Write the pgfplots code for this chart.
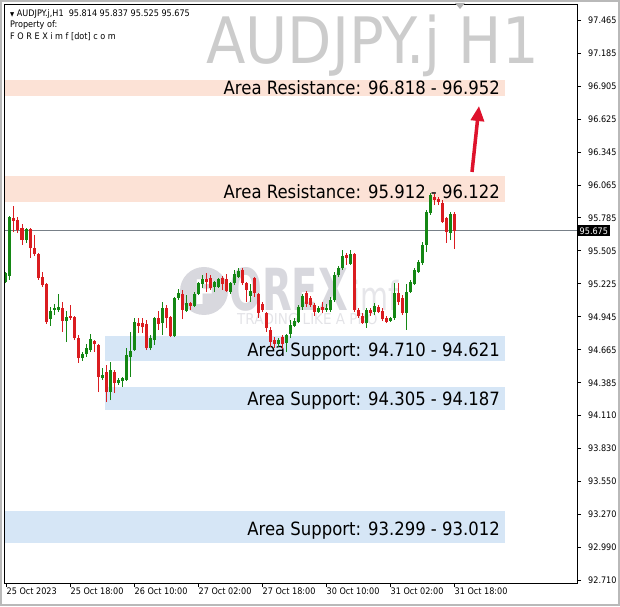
\documentclass[border=0pt]{standalone}
\usepackage{fontspec}
\setmainfont{DejaVu Sans}[FakeStretch=0.9]
\usepackage{pgfplots}
\pgfplotsset{compat=1.18}
\usepackage{pgfplotstable}
\usetikzlibrary{arrows.meta}

\definecolor{bull}{RGB}{20,135,20}
\definecolor{bear}{RGB}{218,28,32}
\definecolor{resband}{RGB}{252,226,214}
\definecolor{supband}{RGB}{214,230,246}
\definecolor{wm}{RGB}{204,204,204}
\definecolor{logo}{RGB}{200,200,208}
\definecolor{pricegray}{RGB}{120,128,136}
\definecolor{arrowred}{RGB}{222,18,44}

% H1 candles, bar index from the left edge: i open high low close
\pgfplotstableread{
i o h l c
0 95.241 95.326 95.232 95.317
1 95.292 95.801 95.258 95.793
5 95.597 95.699 95.572 95.691
11 94.926 95.028 94.867 94.994
12 95.003 95.054 94.960 95.020
13 95.003 95.139 94.986 95.028
15 94.909 94.994 94.731 94.943
19 94.595 94.646 94.570 94.629
20 94.629 94.714 94.604 94.680
21 94.663 94.799 94.646 94.756
24 94.425 94.510 94.408 94.451
26 94.306 94.561 94.238 94.493
28 94.383 94.425 94.366 94.408
29 94.400 94.434 94.349 94.425
30 94.408 94.680 94.400 94.621
31 94.604 94.816 94.434 94.655
32 94.663 94.935 94.655 94.901
36 94.680 94.791 94.663 94.765
37 94.748 94.943 94.706 94.935
39 94.892 95.071 94.791 95.020
42 94.782 95.113 94.773 95.105
43 95.105 95.181 95.088 95.147
45 94.994 95.130 94.986 95.062
47 95.037 95.156 95.028 95.139
48 95.139 95.241 95.130 95.232
49 95.224 95.300 95.190 95.266
52 95.198 95.249 95.156 95.241
53 95.198 95.275 95.190 95.266
56 95.156 95.241 95.139 95.232
57 95.232 95.343 95.215 95.309
58 95.283 95.359 95.275 95.334
61 95.122 95.224 95.071 95.164
68 94.714 94.765 94.689 94.748
70 94.723 94.799 94.646 94.791
71 94.799 94.918 94.765 94.875
72 94.867 94.935 94.858 94.909
73 94.901 95.045 94.892 95.028
74 95.028 95.139 95.003 95.122
78 94.986 95.037 94.977 95.020
80 95.003 95.054 94.986 95.020
81 95.003 95.113 94.986 95.088
82 95.088 95.326 95.071 95.300
83 95.300 95.376 95.283 95.359
84 95.359 95.512 95.343 95.461
86 95.394 95.512 95.385 95.478
90 94.892 95.020 94.850 95.003
92 94.986 95.062 94.960 95.037
96 94.909 94.943 94.901 94.935
97 94.935 95.232 94.918 95.147
100 94.977 95.224 94.833 95.156
101 95.156 95.258 95.147 95.241
102 95.224 95.359 95.215 95.343
103 95.326 95.427 95.317 95.410
104 95.402 95.580 95.385 95.555
105 95.555 95.852 95.495 95.835
106 95.827 95.996 95.810 95.979
111 95.657 95.835 95.597 95.818
}\bullc

\pgfplotstableread{
i o h l c
2 95.784 95.886 95.665 95.759
3 95.767 95.793 95.657 95.682
4 95.699 95.733 95.555 95.597
6 95.691 95.699 95.444 95.529
7 95.529 95.640 95.461 95.478
8 95.478 95.487 95.258 95.275
9 95.283 95.326 95.198 95.215
10 95.224 95.232 94.884 94.901
14 95.020 95.071 94.816 94.909
16 94.952 95.045 94.918 94.935
17 94.943 94.952 94.748 94.765
18 94.765 94.791 94.553 94.595
22 94.740 94.748 94.646 94.714
23 94.706 94.714 94.306 94.434
25 94.476 94.536 94.221 94.306
27 94.476 94.493 94.298 94.383
33 94.892 94.935 94.808 94.867
34 94.892 94.935 94.808 94.858
35 94.884 94.918 94.663 94.680
38 94.935 94.994 94.833 94.884
40 95.020 95.045 94.850 94.935
41 94.943 94.952 94.773 94.782
44 95.139 95.173 94.926 95.003
46 95.062 95.071 95.003 95.037
50 95.266 95.317 95.156 95.241
51 95.275 95.300 95.173 95.190
54 95.275 95.292 95.173 95.224
55 95.266 95.309 95.156 95.164
59 95.343 95.359 95.215 95.232
60 95.232 95.241 95.071 95.173
62 95.275 95.283 95.113 95.147
63 95.139 95.147 94.935 94.977
64 95.054 95.071 94.986 95.003
65 94.977 94.986 94.816 94.850
66 94.833 94.858 94.689 94.731
67 94.748 94.773 94.680 94.714
69 94.773 94.791 94.672 94.714
75 95.147 95.164 95.028 95.054
76 95.105 95.122 95.028 95.045
77 95.045 95.062 94.952 94.986
79 95.028 95.071 94.977 95.003
85 95.470 95.487 95.385 95.444
87 95.478 95.487 94.986 95.003
88 95.003 95.020 94.935 94.952
89 94.952 94.977 94.884 94.892
91 95.003 95.020 94.952 94.977
93 95.028 95.045 94.977 94.986
94 94.994 95.020 94.909 94.926
95 94.935 94.952 94.892 94.901
98 95.147 95.232 95.045 95.071
99 95.105 95.130 94.960 94.977
107 95.962 95.988 95.894 95.937
108 95.945 95.962 95.894 95.920
109 95.911 95.937 95.742 95.750
110 95.784 95.793 95.572 95.665
112 95.814 95.837 95.525 95.675
}\bearc

\tikzset{lbl/.style={anchor=base east, inner sep=0pt, font=\fontsize{18.3}{20}\selectfont}}

\begin{document}
\begin{tikzpicture}
\begin{axis}[
  scale only axis, width=572pt, height=578pt,
  xmin=-0.25, xmax=142.75, ymin=92.6845, ymax=97.5928,
  axis line style={black, line width=1pt},
  tick align=outside, major tick length=4pt,
  tick style={black, line width=0.8pt},
  xtick pos=bottom, ytick pos=right, yticklabel pos=right,
  scaled y ticks=false,
  /pgf/number format/assume math mode=true,
  ytick={92.710,92.990,93.270,93.550,93.830,94.110,94.385,94.665,94.945,
         95.225,95.505,95.785,96.065,96.345,96.625,96.905,97.185,97.465},
  yticklabel style={/pgf/number format/fixed, /pgf/number format/fixed zerofill,
         /pgf/number format/precision=3, font=\fontsize{9}{10}\selectfont,
         anchor=west, inner sep=0pt, xshift=7pt},
  xtick={0,16,32,48,64,80,96,112},
  xticklabels={25 Oct 2023,25 Oct 18:00,26 Oct 10:00,27 Oct 02:00,
               27 Oct 18:00,30 Oct 10:00,31 Oct 02:00,31 Oct 18:00},
  xticklabel style={font=\fontsize{9}{10}\selectfont, anchor=north west,
         inner sep=0pt, xshift=0.5pt, yshift=-1pt},
]
\coordinate (O) at (rel axis cs:0,0);
% resistance and support areas
\fill[resband] (axis cs:-0.25,96.820) rectangle (axis cs:124.75,96.960);
\fill[resband] (axis cs:-0.25,95.922) rectangle (axis cs:124.75,96.141);
\fill[supband] (axis cs:24.75,94.572) rectangle (axis cs:124.75,94.782);
\fill[supband] (axis cs:24.75,94.154) rectangle (axis cs:124.75,94.349);
\fill[supband] (axis cs:-0.25,93.024) rectangle (axis cs:124.75,93.296);

% faint logo behind the candles
\fill[logo, opacity=0.7] (rel axis cs:0.3479,0.5052) circle[radius=24pt];
\node[white, font=\bfseries\fontsize{34}{34}\selectfont] at (rel axis cs:0.3497,0.5035) {F};
\node[anchor=base west, inner sep=0, text=logo, opacity=0.7,
      font=\bfseries\fontsize{58}{58}\selectfont] at (rel axis cs:0.3916,0.4723) {\scalebox{0.74}[1]{OREX}};
\node[anchor=base west, inner sep=0, text=logo, opacity=0.45,
      font=\fontsize{40}{40}\selectfont] at (rel axis cs:0.6066,0.4723) {\scalebox{0.8}[1]{imf}};
\node[anchor=base west, inner sep=0, text=logo, opacity=0.5,
      font=\fontsize{15}{15}\selectfont] at (rel axis cs:0.4056,0.4464) {TRADING LIKE A PRO};

\node[lbl] at (axis cs:123.5,96.829) {Area Resistance: 96.818 - 96.952};
\node[lbl] at (axis cs:123.5,95.951) {Area Resistance: 95.912 - 96.122};
\node[lbl] at (axis cs:123.5,94.604) {Area Support: 94.710 - 94.621};
\node[lbl] at (axis cs:123.5,94.188) {Area Support: 94.305 - 94.187};
\node[lbl] at (axis cs:123.5,93.092) {Area Support: 93.299 - 93.012};

% last price line
\addplot[pricegray, line width=0.8pt, forget plot] coordinates {(-0.25,95.675) (142.75,95.675)};

% wicks
\addplot[draw=none, mark=none, forget plot,
  error bars/.cd, y dir=plus, y explicit, error mark=none,
  error bar style={draw=bull, line width=1pt, solid}]
  table[x=i, y=l, y error plus expr=\thisrow{h}-\thisrow{l}] {\bullc};
\addplot[draw=none, mark=none, forget plot,
  error bars/.cd, y dir=plus, y explicit, error mark=none,
  error bar style={draw=bear, line width=1pt, solid}]
  table[x=i, y=l, y error plus expr=\thisrow{h}-\thisrow{l}] {\bearc};
% bodies
\addplot[draw=none, mark=none, forget plot,
  error bars/.cd, y dir=plus, y explicit, error mark=none,
  error bar style={draw=bull, line width=3pt, solid}]
  table[x=i, y=o, y error plus expr=\thisrow{c}-\thisrow{o}] {\bullc};
\addplot[draw=none, mark=none, forget plot,
  error bars/.cd, y dir=plus, y explicit, error mark=none,
  error bar style={draw=bear, line width=3pt, solid}]
  table[x=i, y=c, y error plus expr=\thisrow{o}-\thisrow{c}] {\bearc};

\draw[arrowred, line width=3.5pt, -{Triangle[length=15pt, width=13pt]}]
  (axis cs:116.5,96.175) -- (axis cs:118.25,96.735);
\end{axis}

% everything else in page pixels, origin at the page's lower left corner
\begin{scope}[shift={(O)}, xshift=-5pt, yshift=-23pt, x=1pt, y=1pt]
\draw[gray!55, line width=2] (1,1) rectangle (619,605);
\node[anchor=west, fill=black, text=white, inner xsep=1.5pt, inner ysep=2pt,
      font=\fontsize{9}{10}\selectfont] at (578,375.2) {95.675};
\node[anchor=base west, inner sep=0, font=\fontsize{9}{10}\selectfont] at (10,589.5)
  {{\fontsize{6}{6}\selectfont ▼}\ AUDJPY.j,H1\ \ 95.814 95.837 95.525 95.675};
\node[anchor=base west, inner sep=0, font=\fontsize{9}{10}\selectfont] at (10,578) {Property of:};
\node[anchor=base west, inner sep=0, font=\fontsize{9}{10}\selectfont] at (10,566) {F O R E X i m f [dot] c o m};
\node[anchor=base west, inner sep=0, text=wm, font=\fontsize{64}{64}\selectfont] at (206,542) {AUDJPY.j H1};
\fill[gray!60] (455,603) -- (465,603) -- (460,597) -- cycle;
\pgfresetboundingbox
\path[use as bounding box] (0,0) rectangle (620,606);
\end{scope}
\end{tikzpicture}
\end{document}
